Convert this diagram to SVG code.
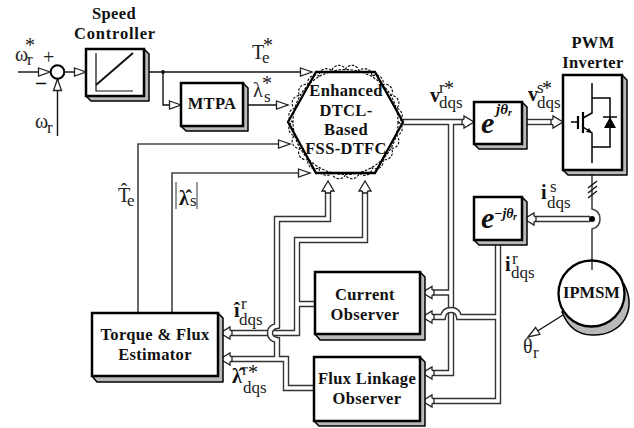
<svg xmlns="http://www.w3.org/2000/svg" xmlns:xlink="http://www.w3.org/1999/xlink" width="634" height="428" viewBox="0 0 634 428">
<style>
text{font-family:"Liberation Serif","Times New Roman",serif;fill:#222}
.b{font-weight:bold;font-size:16.500px;letter-spacing:.35px;text-anchor:middle;fill:#111}
.m{font-size:20px;font-weight:normal}.s{font-size:17px;font-weight:normal;fill:#222}.bb{font-weight:bold;font-size:20px;fill:#111}
.ee{font-weight:bold;font-style:italic;font-size:30px;fill:#111}
.ej{font-weight:bold;font-style:italic;font-size:15px}
.er{font-weight:bold;font-style:italic;font-size:10px}
.face{fill:#fff;stroke:#000;stroke-width:2.500}
.shade{fill:#b9b9b9;stroke:#000;stroke-width:1.500;stroke-linejoin:round}
.t{fill:none;stroke:#111;stroke-width:1.400}
.g{fill:none;stroke:#444;stroke-width:1.600}
.o{fill:none;stroke:#333;stroke-width:6.400}
.i{fill:none;stroke:#fff;stroke-width:3.600}
.head{fill:#fff;stroke:#222;stroke-width:1.300;stroke-linejoin:miter}
</style>
<defs>
<marker id="ah" markerUnits="userSpaceOnUse" markerWidth="14" markerHeight="11" refX="12.500" refY="5" orient="auto" overflow="visible"><path class="head" d="M1,1 L12.500,5 L1,9 Z"/></marker>
<path id="dh" class="head" d="M0,0 L-10,-6 L-10,-3 L-12,-1.800 L-12,1.800 L-10,3 L-10,6 Z"/>
</defs>

<g id="connectors">
<path class="t" d="M18,72 H50" marker-end="url(#ah)"/>
<path class="t" d="M57.500,136 V79" marker-end="url(#ah)"/>
<path class="t" d="M64,72 H86" marker-end="url(#ah)"/>
<path class="t" d="M148,72 H312" marker-end="url(#ah)"/>
<path class="t" d="M163,72 V105 H181" marker-end="url(#ah)"/>
<path class="t" d="M248,105 H288" marker-end="url(#ah)"/>
<circle cx="163" cy="72" r="1.900" fill="#111"/>
<path class="g" d="M138,313 V144 H290" marker-end="url(#ah)"/>
<path class="g" d="M172,313 V173 H310" marker-end="url(#ah)"/>

<path class="o" d="M403,122 H470 M451,122 V373 H427 M451,292.500 H427"/>
<path class="i" d="M403,122 H470 M451,122 V373 H427 M451,292.500 H427"/>
<path class="o" d="M498,243 V401 H427 M498,317 H459 Q458,310 451,310 Q444,310 443,317 H427"/>
<path class="i" d="M498,243 V401 H427 M498,317 H459 Q458,310 451,310 Q444,310 443,317 H427"/>
<path class="o" d="M527,122 H558"/><path class="i" d="M526,122 H558"/>
<path class="o" d="M590,219 H532"/><path class="i" d="M590,219 H532"/>

<path class="o" d="M315,304 H297 M228,333 H297 V240 H365 V185"/>
<path class="i" d="M315,304 H297 M228,333 H297 V240 H365 V185"/>
<path class="o" d="M314,388 H286 V359 H228 M277,359 V340 Q270,339 270,333 Q270,327 277,326 V219 H328 V185"/>
<path class="i" d="M314,388 H286 V359 H228 M277,359 V340 Q270,339 270,333 Q270,327 277,326 V219 H328 V185"/>

<use xlink:href="#dh" href="#dh" transform="translate(328,181) rotate(-90)"/>
<use xlink:href="#dh" href="#dh" transform="translate(365,181) rotate(-90)"/>
<use xlink:href="#dh" href="#dh" transform="translate(474,122)"/>
<use xlink:href="#dh" href="#dh" transform="translate(563,122)"/>
<use xlink:href="#dh" href="#dh" transform="translate(524,219) rotate(180)"/>
<use xlink:href="#dh" href="#dh" transform="translate(422,292.500) rotate(180)"/>
<use xlink:href="#dh" href="#dh" transform="translate(422,317) rotate(180)"/>
<use xlink:href="#dh" href="#dh" transform="translate(422,373) rotate(180)"/>
<use xlink:href="#dh" href="#dh" transform="translate(422,401) rotate(180)"/>
<use xlink:href="#dh" href="#dh" transform="translate(220,333) rotate(180)"/>
<use xlink:href="#dh" href="#dh" transform="translate(220,359) rotate(180)"/>

<path class="g" d="M592,175 V209 Q600,211 600,219 Q600,227 592,229 V270"/>
<path class="t" d="M588,188 L597,181 M588,193 L597,186 M588,198 L597,191"/>
<circle cx="592" cy="219" r="3" fill="#000"/>
<path class="t" d="M563,315 L528,337" marker-end="url(#ah)"/>
</g>

<g id="sum"><circle cx="57.500" cy="72" r="6.800" fill="#fff" stroke="#000" stroke-width="2"/></g>

<g id="speed-controller">
<polygon class="shade" points="144,49 149,54 149,101 91,101 86,96 144,96"/>
<rect class="face" x="86" y="49" width="58" height="47"/>
<path d="M96,53 V91 H133" fill="none" stroke="#111" stroke-width="1.200"/>
<path d="M96,85 L133,53" fill="none" stroke="#111" stroke-width="2"/>
<text class="b" x="114" y="19">Speed</text>
<text class="b" x="115" y="39" style="letter-spacing:.8px">Controller</text>
</g>

<g id="mtpa">
<polygon class="shade" points="243,83 248,88 248,131 186,131 181,126 243,126"/>
<rect class="face" x="181" y="83" width="62" height="43"/>
<text class="b" x="212" y="109">MTPA</text>
</g>

<g id="dtfc">
<path d="M398.500,122 A7.500,7.500 0 0 1 396.700,135.700 A7.500,7.500 0 0 1 391.400,148.500 A7.500,7.500 0 0 1 383,159.500 A7.500,7.500 0 0 1 372,167.900 A7.500,7.500 0 0 1 359.200,173.200 A7.500,7.500 0 0 1 345.500,175 A7.500,7.500 0 0 1 331.800,173.200 A7.500,7.500 0 0 1 319,167.900 A7.500,7.500 0 0 1 308,159.500 A7.500,7.500 0 0 1 299.600,148.500 A7.500,7.500 0 0 1 294.300,135.700 A7.500,7.500 0 0 1 292.500,122 A7.500,7.500 0 0 1 294.300,108.300 A7.500,7.500 0 0 1 299.600,95.500 A7.500,7.500 0 0 1 308,84.500 A7.500,7.500 0 0 1 319,76.100 A7.500,7.500 0 0 1 331.800,70.800 A7.500,7.500 0 0 1 345.500,69 A7.500,7.500 0 0 1 359.200,70.800 A7.500,7.500 0 0 1 372,76.100 A7.500,7.500 0 0 1 383,84.500 A7.500,7.500 0 0 1 391.400,95.500 A7.500,7.500 0 0 1 396.700,108.300 A7.500,7.500 0 0 1 398.500,122 Z" fill="#fff" stroke="#000" stroke-width="1.100" stroke-dasharray="2.500 1.500"/>
<circle cx="345.500" cy="122" r="52.500" fill="none" stroke="#000" stroke-width="1.100" stroke-dasharray="2.500 1.500"/>
<polygon points="288,122 316,72 375,72 403,122 375,173 316,173" fill="none" stroke="#000" stroke-width="2.300"/>
<text class="b" x="346" y="96">Enhanced</text>
<text class="b" x="346" y="116">DTCL-</text>
<text class="b" x="346" y="135">Based</text>
<text class="b" x="346" y="154">FSS-DTFC</text>
</g>

<g id="park">
<polygon class="shade" points="522,102 527,107 527,149 479,149 474,144 522,144"/>
<rect class="face" x="474" y="102" width="48" height="42"/>
<text class="ee" x="481" y="133">e<tspan class="ej" x="496" y="114">jθ</tspan><tspan class="er" x="508" y="116">r</tspan></text>
</g>

<g id="inv-park">
<polygon class="shade" points="522,197 527,202 527,245 479,245 474,240 522,240"/>
<rect class="face" x="474" y="197" width="48" height="43"/>
<text class="ee" x="481" y="228">e<tspan class="ej" x="494" y="218" style="font-size:14px">−jθ</tspan><tspan class="er" x="513" y="220">r</tspan></text>
</g>

<g id="inverter">
<polygon class="shade" points="622,75 627,80 627,175 568,175 563,170 622,170"/>
<rect class="face" x="563" y="75" width="59" height="95"/>
<path d="M592,83 V113 L583,118 M583,127 L592,133 V163 M592,98 H610 V147 H592 M571,122 H578" fill="none" stroke="#000" stroke-width="1.500"/>
<path d="M578,116 V129 M583,112 V133" fill="none" stroke="#000" stroke-width="2.200"/>
<polygon points="592,133 586,132 589,128" fill="#000"/>
<polygon points="610,117 604,128 616,128" fill="#000"/>
<path d="M603,117 H617" stroke="#000" stroke-width="1.500"/>
<text class="b" x="593" y="48">PWM</text>
<text class="b" x="593" y="68">Inverter</text>
</g>

<g id="motor">
<path d="M624,284 C638,310 622,336 592,335 C578,335 568,327 562,312 Z" fill="#b9b9b9" stroke="#000" stroke-width="1.500"/>
<circle cx="591.500" cy="293.500" r="33" fill="#fff" stroke="#000" stroke-width="2.300"/>
<path d="M592,261 V270" stroke="#444" stroke-width="1.600"/>
<text class="b" x="591.500" y="298" style="letter-spacing:0">IPMSM</text>
</g>

<g id="current-observer">
<polygon class="shade" points="420,272 425,277 425,340 320,340 315,334 420,334"/>
<rect class="face" x="315" y="272" width="105" height="62"/>
<text class="b" x="365" y="300">Current</text>
<text class="b" x="365" y="320">Observer</text>
</g>

<g id="flux-observer">
<polygon class="shade" points="420,357 425,362 425,426 319,426 314,421 420,421"/>
<rect class="face" x="314" y="357" width="106" height="64"/>
<text class="b" x="367" y="384">Flux Linkage</text>
<text class="b" x="367" y="404">Observer</text>
</g>

<g id="estimator">
<polygon class="shade" points="218,313 223,318 223,382 97,382 92,376 218,376"/>
<rect class="face" x="92" y="313" width="126" height="63"/>
<text class="b" x="155" y="340">Torque &amp; Flux</text>
<text class="b" x="155" y="360">Estimator</text>
</g>

<g id="labels">
<text class="m" x="15" y="61">ω<tspan class="s" x="27" y="65">r</tspan><tspan x="25" y="52">*</tspan></text>
<text class="m" x="43" y="64">+</text><text class="bb" x="36" y="89">–</text>
<text class="m" x="35" y="128">ω<tspan class="s" x="47" y="133">r</tspan></text>
<text class="m" x="252" y="59">T<tspan class="s" x="262" y="63">e</tspan><tspan x="263" y="52">*</tspan></text>
<text class="m" x="253" y="97">λ<tspan class="s" x="264" y="102">s</tspan><tspan x="262" y="90">*</tspan></text>
<text class="bb" x="430" y="102">v<tspan class="s" x="439" y="93">r</tspan><tspan class="m" x="444" y="95">*</tspan><tspan class="s" x="439" y="108">dqs</tspan></text>
<text class="bb" x="528" y="101">v<tspan class="s" x="537" y="93">s</tspan><tspan class="m" x="542" y="95">*</tspan><tspan class="s" x="537" y="108">dqs</tspan></text>
<text class="bb" x="541" y="199">i<tspan class="s" x="550" y="192">s</tspan><tspan class="s" x="547" y="208">dqs</tspan></text>
<text class="bb" x="505" y="271">i<tspan class="s" x="512" y="264">r</tspan><tspan class="s" x="511" y="278">dqs</tspan></text>
<text class="m" x="523" y="353">θ<tspan class="s" x="533" y="358">r</tspan></text>
<text class="m" x="118" y="202">T̂<tspan class="s" x="127" y="206">e</tspan></text>
<path d="M176,182 V209 M197,182 V209" stroke="#333" stroke-width="1" fill="none"/>
<text class="bb" x="179" y="205">λ̂<tspan class="s" x="190" y="206">s</tspan></text>
<text class="bb" x="234" y="317">î<tspan class="s" x="241" y="309">r</tspan><tspan class="s" x="239" y="325">dqs</tspan></text>
<text class="bb" x="232" y="383">λ̂<tspan class="s" x="242" y="375">r</tspan><tspan class="m" x="248" y="379">*</tspan><tspan class="s" x="243" y="393">dqs</tspan></text>
</g>
</svg>
